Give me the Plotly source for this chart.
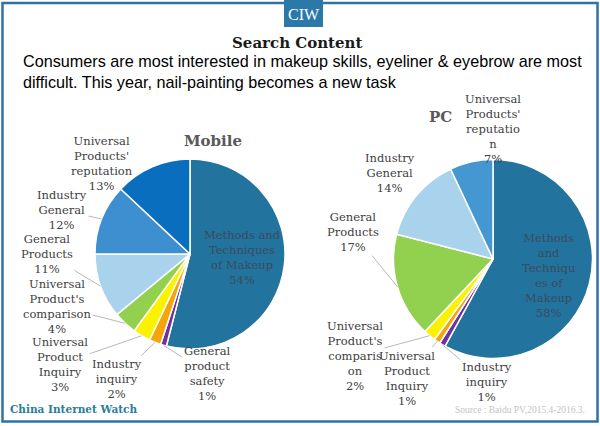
import math
import plotly.graph_objects as go

W, H = 600, 426

# ---------------- data ----------------
mobile_labels = ["Methods and Techniques of Makeup", "General product safety", "Industry inquiry",
                 "Universal Product Inquiry", "Universal Product's comparison", "General Products",
                 "Industry General", "Universal Products' reputation"]
mobile_values = [54, 1, 2, 3, 4, 11, 12, 13]
mobile_text = ["Methods and<br>Techniques<br>of Makeup", "General<br>product<br>safety", "Industry<br>inquiry",
               "Universal<br>Product<br>Inquiry", "Universal<br>Product's<br>comparison", "General<br>Products",
               "Industry<br>General", "Universal<br>Products'<br>reputation"]

pc_labels = ["Methods and Techniques of Makeup", "Industry inquiry", "Universal Product Inquiry",
             "Universal Product's comparison", "General Products", "Industry General",
             "Universal Products' reputation"]
pc_values = [58, 1, 1, 2, 17, 14, 7]
pc_text = ["Methods<br>and<br>Techniqu<br>es of<br>Makeup", "Industry<br>inquiry", "Universal<br>Product<br>Inquiry",
           "Universal<br>Product's<br>comparis<br>on", "General<br>Products", "Industry<br>General",
           "Universal<br>Products'<br>reputatio<br>n"]

title = "Search Content"
subtitle_lines = ["Consumers are most interested in makeup skills, eyeliner & eyebrow are most",
                  "difficult. This year, nail-painting becomes a new task"]

# ---------------- styles / layout ----------------
mobile_colors = ["#23739f", "#7030a0", "#f5a50c", "#fbf200", "#92d050", "#a9d2ec", "#3d8fcf", "#0a6ebf"]
pc_colors = ["#23739f", "#7030a0", "#f5a50c", "#fbf200", "#92d050", "#a9d2ec", "#4597d2"]

M_CX, M_CY, M_R = 190, 254, 95
P_CX, P_CY, P_R = 493, 259, 99.5

mobile_label_pos = [(242, 257), (207, 373), (117, 379), (60, 364), (57, 306), (47, 254), (62, 210), (102, 163)]
mobile_arrow = [False, True, True, True, True, True, True, False]
pc_label_pos = [(548, 275), (487, 382), (407, 378), (355, 356), (353, 232), (390, 173), (493, 129)]
pc_arrow = [False, True, True, True, True, True, False]

LABEL_FONT = dict(family="DejaVu Serif", size=11.5, color="#404040")
INNER_FONT = dict(family="DejaVu Serif", size=11.5, color="#3a4b5c")


def domain(cx, cy, r):
    return dict(x=[(cx - r) / W, (cx + r) / W], y=[(H - cy - r) / H, (H - cy + r) / H])


fig = go.Figure()
fig.add_trace(go.Scatter(x=[], y=[], showlegend=False, hoverinfo="skip"))

for labels, values, colors, (cx, cy, r) in [
    (mobile_labels, mobile_values, mobile_colors, (M_CX, M_CY, M_R)),
    (pc_labels, pc_values, pc_colors, (P_CX, P_CY, P_R)),
]:
    fig.add_trace(go.Pie(
        labels=labels, values=values, sort=False, direction="clockwise", rotation=0,
        marker=dict(colors=colors, line=dict(color="white", width=1.5)),
        textinfo="none", domain=domain(cx, cy, r), showlegend=False, hole=0,
    ))


def add_labels(values, texts, positions, arrows, cx, cy, r):
    total = sum(values)
    cum = 0
    for i, (v, t, (lx, ly), arr) in enumerate(zip(values, texts, positions, arrows)):
        mid = (cum + v / 2) / total
        cum += v
        ang = 2 * math.pi * mid
        px = cx + r * math.sin(ang)
        py = cy - r * math.cos(ang)
        txt = f"{t}<br>{v}%"
        font = INNER_FONT if i == 0 else LABEL_FONT
        if arr:
            fig.add_annotation(x=px, y=py, xref="x", yref="y", ax=lx, ay=ly, axref="x", ayref="y",
                               text=txt, showarrow=True, arrowhead=0, arrowwidth=0.8,
                               arrowcolor="#a6a6a6", standoff=0, startstandoff=0,
                               font=font, align="center")
        else:
            fig.add_annotation(x=lx, y=ly, xref="x", yref="y", text=txt, showarrow=False,
                               font=font, align="center", xanchor="center", yanchor="middle")


add_labels(mobile_values, mobile_text, mobile_label_pos, mobile_arrow, M_CX, M_CY, M_R)
add_labels(pc_values, pc_text, pc_label_pos, pc_arrow, P_CX, P_CY, P_R)

# titles
fig.add_annotation(x=297, y=43, xref="x", yref="y", text=f"<b>{title}</b>", showarrow=False,
                   font=dict(family="DejaVu Serif", size=15, color="#1a1a1a"))
for i, line in enumerate(subtitle_lines):
    fig.add_annotation(x=21, y=61 + 21 * i, xref="x", yref="y", text=line, showarrow=False,
                       xanchor="left", yanchor="middle",
                       font=dict(family="Arial, Liberation Sans", size=16.2, color="#000000"))
fig.add_annotation(x=213, y=141, xref="x", yref="y", text="<b>Mobile</b>", showarrow=False,
                   font=dict(family="DejaVu Serif", size=15, color="#595959"))
fig.add_annotation(x=440, y=117, xref="x", yref="y", text="<b>PC</b>", showarrow=False,
                   font=dict(family="DejaVu Serif", size=15, color="#595959"))
fig.add_annotation(x=8, y=409, xref="x", yref="y", text="<b>China Internet Watch</b>", showarrow=False,
                   xanchor="left", font=dict(family="DejaVu Serif", size=10.5, color="#2a7d9c"))
fig.add_annotation(x=587, y=410, xref="x", yref="y", text="Source : Baidu PV,2015.4-2016.3.",
                   showarrow=False, xanchor="right",
                   font=dict(family="Liberation Serif", size=9.5, color="#c4c4c4"))

# frame and logo box
fig.add_shape(type="rect", xref="x", yref="y", x0=2.5, y0=3, x1=597.5, y1=421.5,
              line=dict(color="#2f72a6", width=2.5), fillcolor="rgba(0,0,0,0)", layer="above")
fig.add_shape(type="rect", xref="x", yref="y", x0=284, y0=0, x1=323, y1=27,
              line=dict(width=0), fillcolor="#2b79a9", layer="above")
fig.add_annotation(x=303.5, y=14, xref="x", yref="y", text="CIW", showarrow=False,
                   font=dict(family="Liberation Serif", size=16, color="white"))

fig.update_layout(
    width=W, height=H, margin=dict(l=0, r=0, t=0, b=0),
    paper_bgcolor="white", plot_bgcolor="rgba(0,0,0,0)",
    xaxis=dict(range=[0, W], visible=False, domain=[0, 1], fixedrange=True),
    yaxis=dict(range=[H, 0], visible=False, domain=[0, 1], fixedrange=True),
    showlegend=False,
)

fig.write_html("out.html", config={"displayModeBar": False},
               post_script="document.body.style.margin='0';document.body.style.overflow='hidden';")
